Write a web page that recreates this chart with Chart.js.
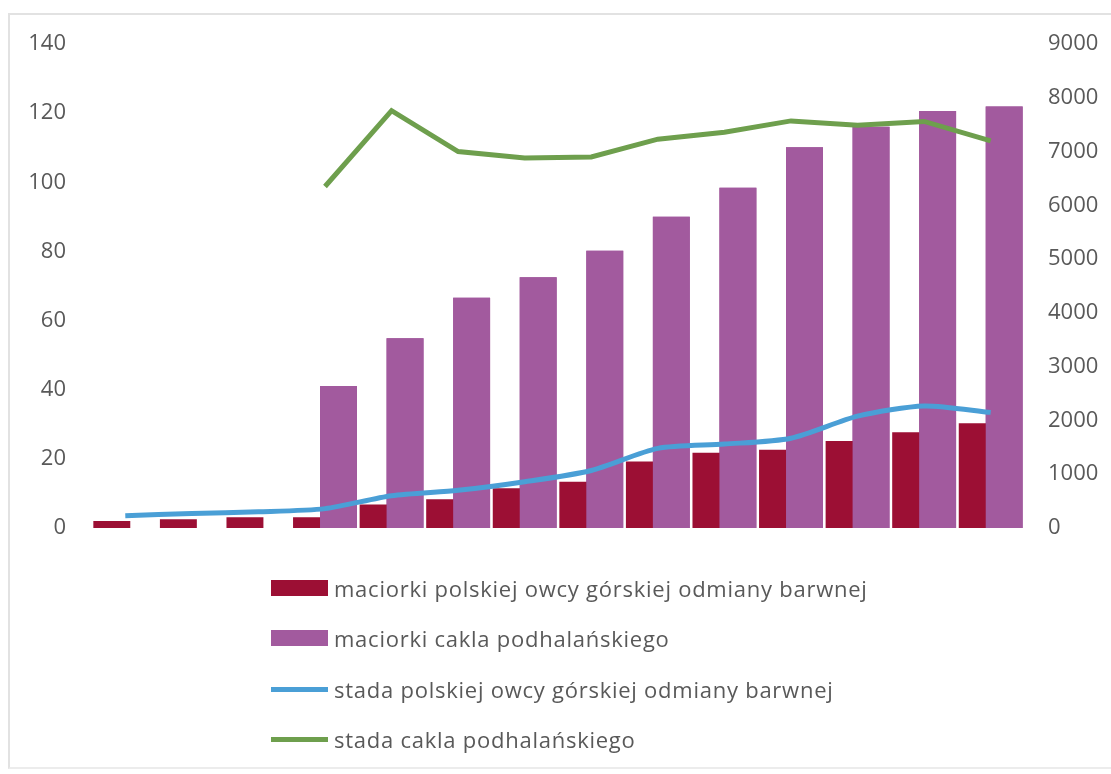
<!DOCTYPE html>
<html>
<head>
<meta charset="utf-8">
<script src="https://cdn.jsdelivr.net/npm/chart.js@4/dist/chart.umd.min.js"></script>
<style>
  html, body { margin: 0; padding: 0; background: #ffffff; }
  #wrap { position: relative; width: 1111px; height: 774px; overflow: hidden; }
  #frame { position: absolute; left: 8px; top: 13px; width: 1120px; height: 752px; border-left: 2px solid #e2e2e2; border-top: 2px solid #e2e2e2; border-bottom: 2px solid #ececec; }
  #chartBox { position: absolute; left: 0; top: 0; width: 1111px; height: 774px; }
  #legend { position: absolute; left: 271px; top: 0; font-family: "Open Sans", sans-serif; font-size: 22px; letter-spacing: 0.75px; color: #595959; }
  .item { position: absolute; left: 0; white-space: nowrap; display: flex; align-items: center; height: 30px; }
  .sw { width: 57px; margin-right: 6px; }
</style>
</head>
<body>
<div id="wrap">
  <div id="frame"></div>
  <div id="chartBox"><canvas id="c"></canvas></div>
  <div id="legend"></div>
</div>
<script>
// ---- data ----
const categories = ['1','2','3','4','5','6','7','8','9','10','11','12','13','14'];
const maciorkiPOG = [2, 2.5, 3.1, 3.1, 6.8, 8.3, 11.5, 13.4, 19.2, 21.8, 22.6, 25.2, 27.7, 30.3];
const maciorkiCakla = [null, null, null, 41.1, 54.9, 66.6, 72.5, 80.2, 90.0, 98.4, 110.1, 116.1, 120.6, 121.9];
const stadaPOG = [230, 270, 300, 360, 600, 700, 860, 1070, 1480, 1560, 1670, 2080, 2270, 2150];
const stadaCakla = [null, null, null, 6350, 7760, 7000, 6880, 6900, 7230, 7360, 7570, 7490, 7560, 7200];
const leftTicks = [0, 20, 40, 60, 80, 100, 120, 140];
const rightTicks = [0, 1000, 2000, 3000, 4000, 5000, 6000, 7000, 8000, 9000];
const seriesNames = [
  'maciorki polskiej owcy górskiej odmiany barwnej',
  'maciorki cakla podhalańskiego',
  'stada polskiej owcy górskiej odmiany barwnej',
  'stada cakla podhalańskiego'
];
const colors = ['#9c0f34', '#a25a9e', '#4a9fd6', '#6e9f4d'];

const tickFont = { family: 'Open Sans', size: 22 };
const gray = '#595959';

// redraw the second bar series over the first (Excel-like overlap, right bar on top)
const overlapPlugin = {
  id: 'overlapOrder',
  afterDatasetDraw(chart, args) {
    if (args.index === 0) {
      const meta = chart.getDatasetMeta(1);
      if (meta && !meta.hidden) meta.controller.draw();
    }
  }
};

new Chart(document.getElementById('c'), {
  data: {
    labels: categories,
    datasets: [
      { type: 'bar', label: seriesNames[0], data: maciorkiPOG, backgroundColor: colors[0], yAxisID: 'y', order: 1,
        categoryPercentage: 0.81, barPercentage: 1.37 },
      { type: 'bar', label: seriesNames[1], data: maciorkiCakla, backgroundColor: colors[1], yAxisID: 'y', order: 2,
        categoryPercentage: 0.81, barPercentage: 1.37 },
      { type: 'line', label: seriesNames[2], data: stadaPOG, borderColor: colors[2], backgroundColor: colors[2], yAxisID: 'y1', order: 0,
        borderWidth: 5, pointRadius: 0, tension: 0.25, fill: false },
      { type: 'line', label: seriesNames[3], data: stadaCakla, borderColor: colors[3], backgroundColor: colors[3], yAxisID: 'y1', order: 0,
        borderWidth: 5, pointRadius: 0, tension: 0, fill: false }
    ]
  },
  plugins: [overlapPlugin],
  options: {
    responsive: true,
    maintainAspectRatio: false,
    animation: false,
    layout: { padding: { top: 44, bottom: 246, left: 0, right: 0 } },
    plugins: { legend: { display: false }, tooltip: { enabled: false } },
    scales: {
      x: { display: false, offset: true, grid: { display: false } },
      y: {
        position: 'left', min: 0, max: 140,
        grid: { display: false, drawTicks: false }, border: { display: false },
        afterBuildTicks: (s) => { s.ticks = leftTicks.map(v => ({ value: v })); },
        afterFit: (s) => { s.width = 92; },
        ticks: { font: tickFont, color: gray, padding: 26, callback: (v) => String(v) }
      },
      y1: {
        position: 'right', min: 0, max: 9000,
        grid: { display: false, drawTicks: false }, border: { display: false },
        afterBuildTicks: (s) => { s.ticks = rightTicks.map(v => ({ value: v })); },
        afterFit: (s) => { s.width = 87; },
        ticks: { font: tickFont, color: gray, padding: 24, callback: (v) => String(v) }
      }
    }
  }
});

// HTML legend
const legend = document.getElementById('legend');
const rowCenters = [588, 638, 689, 739];
seriesNames.forEach((name, i) => {
  const item = document.createElement('div');
  item.className = 'item';
  item.style.top = (rowCenters[i] - 15) + 'px';
  const sw = document.createElement('div');
  sw.className = 'sw';
  sw.style.background = colors[i];
  sw.style.height = (i < 2 ? 16 : 5) + 'px';
  const t = document.createElement('span');
  t.textContent = name;
  item.appendChild(sw);
  item.appendChild(t);
  legend.appendChild(item);
});
</script>
</body>
</html>
